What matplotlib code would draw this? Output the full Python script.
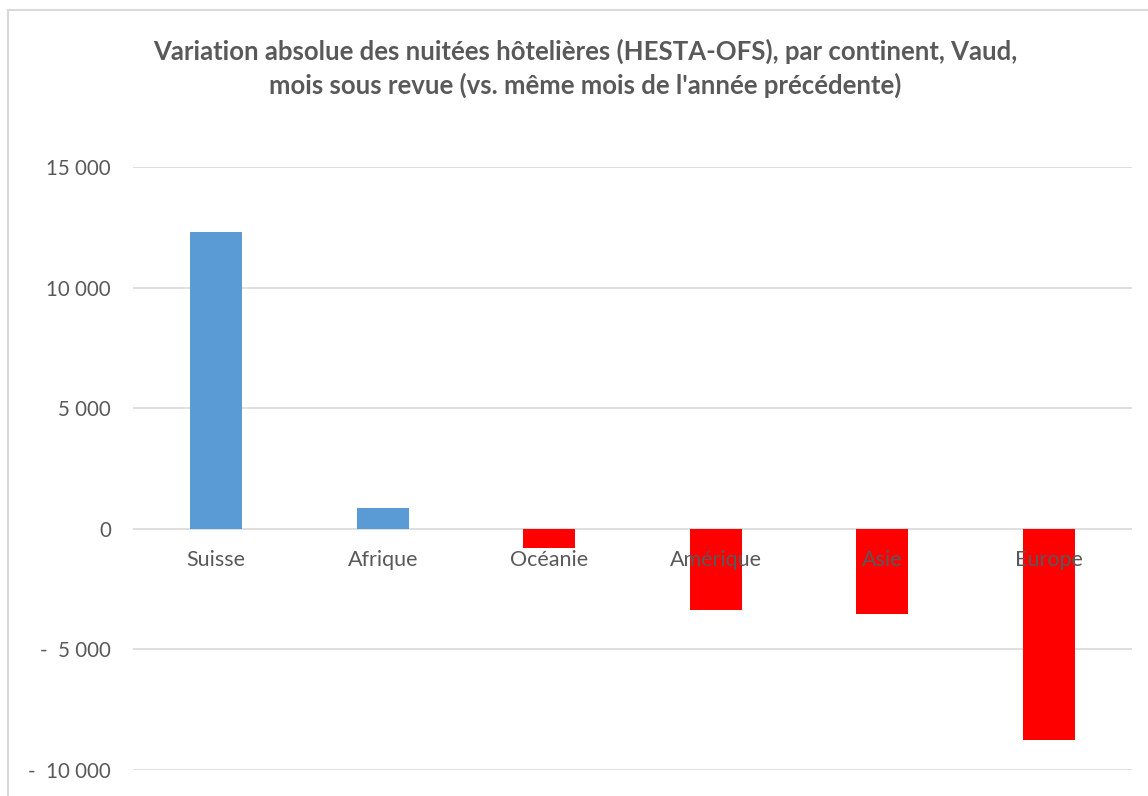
import matplotlib
matplotlib.use("Agg")
import matplotlib.pyplot as plt
from matplotlib.lines import Line2D

categories = ["Suisse", "Afrique", "Océanie", "Amérique", "Asie", "Europe"]
values = [12300, 870, -800, -3350, -3520, -8750]
yticks = [-10000, -5000, 0, 5000, 10000, 15000]
ytick_labels = ["-  10 000", "-  5 000", "0", "5 000", "10 000", "15 000"]
title = ("Variation absolue des nuitées hôtelières (HESTA-OFS), par continent, Vaud,\n"
         "mois sous revue (vs. même mois de l'année précédente)")

W, H = 1148, 796
fig = plt.figure(figsize=(W / 100, H / 100), dpi=100)
plt.rcParams['font.family'] = ['Lato', 'DejaVu Sans']
gray = "#595959"

# axes placement in pixels
left, right, top, bottom = 133, 1132, 167, 770
ax = fig.add_axes([left / W, 1 - bottom / H, (right - left) / W, (bottom - top) / H])

colors = ["#5B9BD5" if v >= 0 else "#FF0000" for v in values]
x = list(range(len(categories)))
ax.bar(x, values, width=0.31, color=colors, zorder=2)

ax.set_xlim(-0.5, len(categories) - 0.5)
ax.set_ylim(-10000, 15000)
ax.set_yticks(yticks)
ax.set_yticklabels(ytick_labels, fontsize=14.8, color=gray)
ax.tick_params(axis='y', length=0, pad=16)
ax.set_xticks([])
ax.grid(axis='y', color="#D9D9D9", linewidth=1.2, zorder=0)
ax.set_axisbelow(True)
for s in ax.spines.values():
    s.set_visible(False)

for xi, lab in zip(x, categories):
    ax.annotate(lab, (xi, 0), xytext=(0, -31), textcoords='offset pixels',
                ha='center', va='center', fontsize=15.5, color=gray, zorder=5)

fig.text(585 / W, 1 - 68 / H, title, ha='center', va='center', fontsize=18.5,
         fontweight='bold', color=gray, linespacing=1.4)

# chart border (top and left visible)
fig.add_artist(Line2D([8 / W, 8 / W], [0, 1 - 10 / H], transform=fig.transFigure,
                      color="#D9D9D9", linewidth=1.5))
fig.add_artist(Line2D([8 / W, 1], [1 - 10 / H, 1 - 10 / H], transform=fig.transFigure,
                      color="#D9D9D9", linewidth=1.5))

fig.savefig("out.png", dpi=100)
